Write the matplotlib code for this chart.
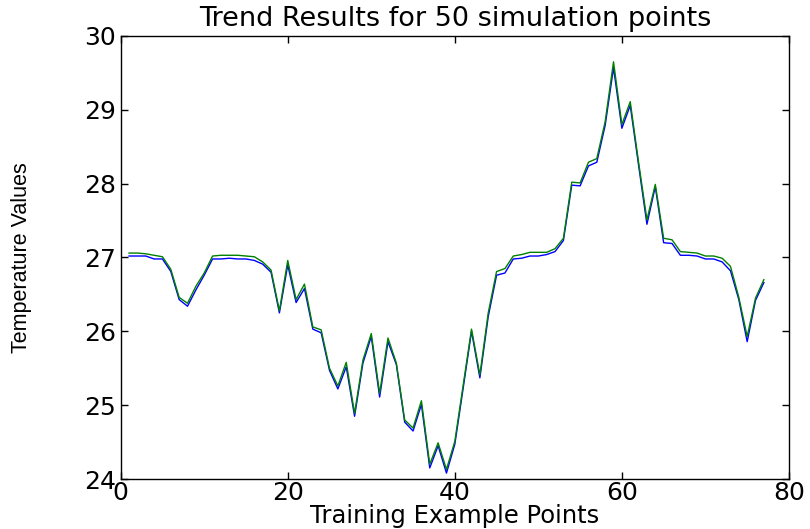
import matplotlib
matplotlib.use("Agg")
import matplotlib.pyplot as plt
import numpy as np

# ===== Data =====
points = np.arange(1, 78)

predicted = [27.02, 27.02, 27.02, 26.98, 26.98, 26.81, 26.43, 26.34, 26.56, 26.76,
             26.98, 26.98, 26.99, 26.98, 26.98, 26.96, 26.91, 26.80, 26.25, 26.90,
             26.39, 26.58, 26.03, 25.98, 25.47, 25.22, 25.52, 24.85, 25.57, 25.93,
             25.11, 25.86, 25.55, 24.77, 24.65, 25.01, 24.15, 24.45, 24.08, 24.47,
             25.23, 26.00, 25.37, 26.20, 26.76, 26.79, 26.98, 26.99, 27.02, 27.02,
             27.04, 27.08, 27.23, 27.98, 27.97, 28.24, 28.29, 28.79, 29.57, 28.75,
             29.06, 28.25, 27.45, 27.96, 27.20, 27.19, 27.03, 27.03, 27.02, 26.98,
             26.98, 26.94, 26.82, 26.43, 25.86, 26.42, 26.66]

actual = [27.06, 27.06, 27.05, 27.03, 27.01, 26.84, 26.46, 26.38, 26.61, 26.79,
          27.02, 27.03, 27.03, 27.03, 27.02, 27.01, 26.94, 26.83, 26.28, 26.96,
          26.43, 26.64, 26.06, 26.02, 25.50, 25.26, 25.58, 24.89, 25.61, 25.97,
          25.16, 25.91, 25.57, 24.80, 24.69, 25.06, 24.20, 24.49, 24.13, 24.51,
          25.27, 26.03, 25.41, 26.25, 26.81, 26.85, 27.02, 27.04, 27.07, 27.07,
          27.07, 27.12, 27.26, 28.02, 28.01, 28.29, 28.34, 28.84, 29.65, 28.80,
          29.11, 28.29, 27.51, 27.99, 27.26, 27.24, 27.08, 27.07, 27.06, 27.02,
          27.02, 26.99, 26.88, 26.46, 25.93, 26.45, 26.70]

x_ticks = [0, 20, 40, 60, 80]
y_ticks = [24, 25, 26, 27, 28, 29, 30]

# ===== Plot =====
fig = plt.figure(figsize=(8.1, 5.29), dpi=100)
ax = fig.add_axes([0.149, 0.0945, 0.825, 0.8375])

ax.plot(points, predicted, color="#0000ff", linewidth=1.0)
ax.plot(points, actual, color="#008000", linewidth=1.0)

ax.set_xlim(0, 80)
ax.set_ylim(24, 30)
ax.set_xticks(x_ticks)
ax.set_yticks(y_ticks)

ax.tick_params(direction="in", length=5, width=1, top=True, right=True,
               labelsize=18, colors="black")
ax.tick_params(axis="x", pad=1.5)
ax.tick_params(axis="y", pad=3.5)
for lab in ax.get_xticklabels() + ax.get_yticklabels():
    lab.set_family("DejaVu Sans")

for sp in ax.spines.values():
    sp.set_linewidth(1.0)
    sp.set_color("black")

ax.set_title("Trend Results for 50 simulation points", family="DejaVu Sans",
             fontsize=19.5, pad=7)
ax.set_xlabel("Training Example Points", family="DejaVu Sans", fontsize=17.5,
              labelpad=-1)
ax.set_ylabel("Temperature Values", family="Liberation Sans", fontsize=15.5)
ax.yaxis.set_label_coords(-0.133, 0.5)

fig.savefig("out.png", dpi=100)
